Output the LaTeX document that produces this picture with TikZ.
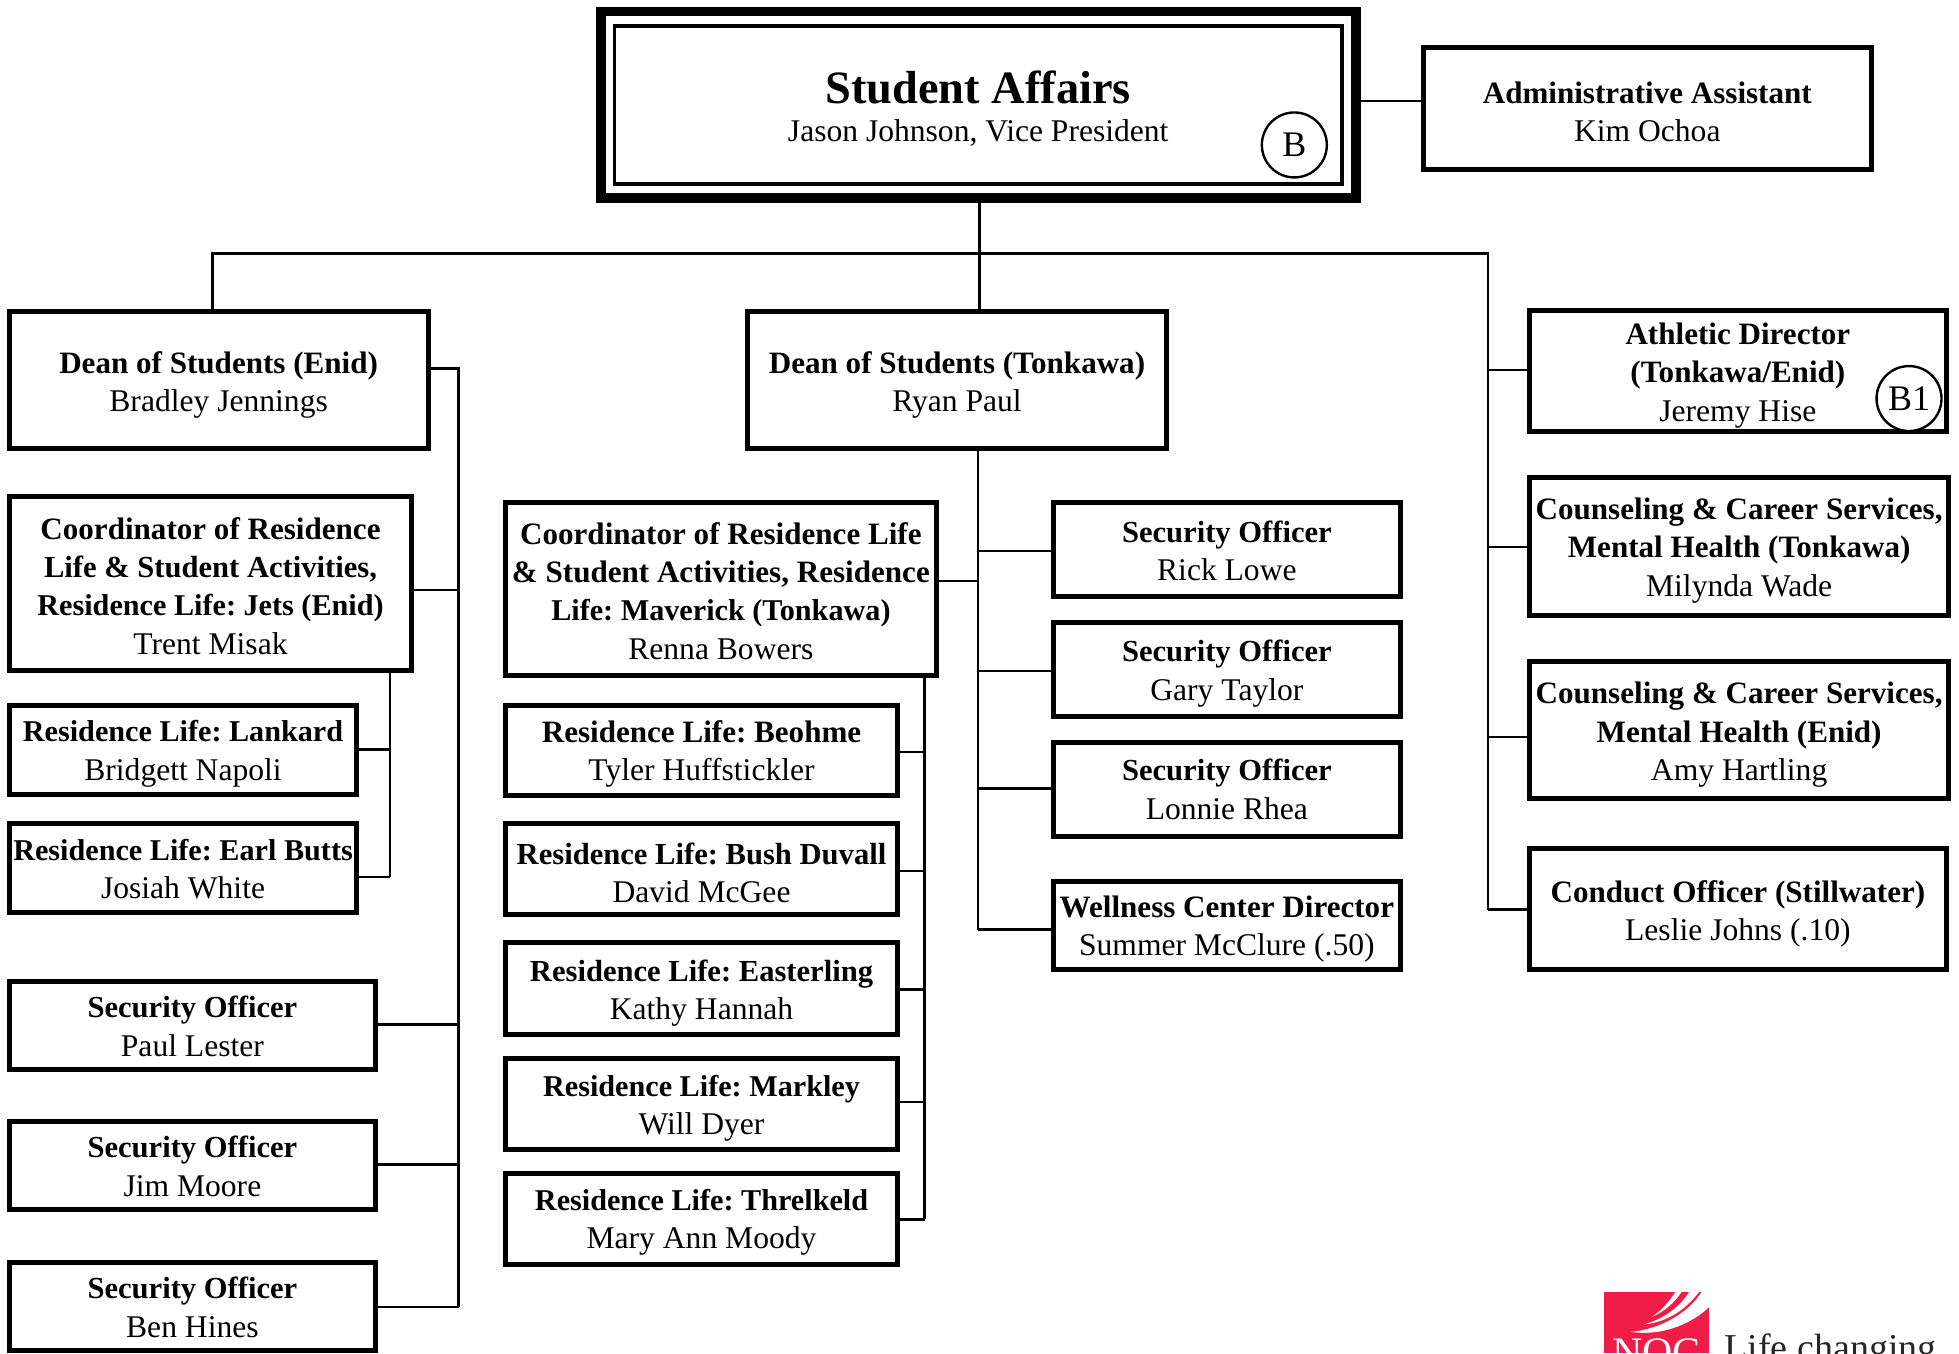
\documentclass[tikz,border=0pt]{standalone}
\usepackage{fontspec}
\setmainfont{Liberation Serif}
\definecolor{nocred}{HTML}{EE1C47}
\newcommand{\B}[1]{{\fontsize{15.55}{19.25}\selectfont\bfseries #1}}
\newcommand{\Bn}[1]{{\fontsize{15.1}{19.25}\selectfont\bfseries #1}}
\newcommand{\Bm}[1]{{\fontsize{15.3}{19.25}\selectfont\bfseries #1}}
\tikzset{
  x=0.625pt,y=-0.625pt,
  orgbox/.style={draw=black,line width=2.5pt,fill=white,inner sep=0pt},
  orgtext/.style={inner sep=0pt,align=center,font=\frenchspacing\fontsize{15.8}{19.25}\selectfont},
  link/.style={draw=black,line width=1.15pt},
  mark circle/.style={circle,draw=black,line width=1.2pt,fill=white,minimum size=32.5pt,inner sep=0pt,
    font=\fontsize{18}{20}\selectfont},
}
% [text shift], name, x0, y0, x1, y1 (outer edges), text
\newcommand{\bx}[7][3]{%
  \pgfmathsetmacro\cxx{(#3+#5)/2}\pgfmathsetmacro\cyy{(#4+#6)/2}\pgfmathsetmacro\tyy{\cyy+#1}%
  \pgfmathsetlengthmacro\ww{(#5-#3)*0.625pt-1.6pt}\pgfmathsetlengthmacro\hh{(#6-#4)*0.625pt-1.6pt}%
  \node[orgbox,minimum width=\ww,minimum height=\hh] (#2) at (\cxx,\cyy) {};
  \node[orgtext] (#2t) at (\cxx,\tyy) {#7};}
% horizontal branches from the east / west side of a node to a bus at height y
\newcommand{\branchE}[3]{\draw[link] (#1.east |- 0,#3) -- (#2 |- 0,#3);}
\newcommand{\branchW}[3]{\draw[link] (#1.west |- 0,#3) -- (#2 |- 0,#3);}
\begin{document}
\begin{tikzpicture}
\useasboundingbox (0,0) rectangle (1568,1083);
\begin{scope}
\clip (0,0) rectangle (1568,1083);
% top box
\node[draw=black,line width=5pt,minimum width=377.5pt,minimum height=93.5pt,inner sep=0pt] (top) at (783,84) {};
\node[draw=black,line width=1.8pt,minimum width=364pt,minimum height=79pt,inner sep=0pt] (topin) at (783,84) {};
\node[orgtext] (toptext) at (783,87)
  {{\fontsize{23.2}{24}\selectfont\bfseries Student Affairs}\\Jason Johnson, Vice President};
\node[mark circle] (cb) at (1036,116) {\raisebox{-0.6pt}{B}};

\bx[2.5]{admin}{1138}{37}{1499}{137}{\B{Administrative Assistant}\\Kim Ochoa}
\bx[4]{deanE}{6}{248}{344}{360}{\B{Dean of Students (Enid)}\\Bradley Jennings}
\bx[4]{deanT}{597}{248}{935}{360}{\B{Dean of Students (Tonkawa)}\\Ryan Paul}
\bx[3.5]{ath}{1223}{247}{1559}{347}{\B{Athletic Director}\\\B{(Tonkawa/Enid)}\\Jeremy Hise}
\bx{csT}{1223}{381}{1561}{494}{\B{Counseling \& Career Services,}\\\B{Mental Health (Tonkawa)}\\Milynda Wade}
\bx[4]{csE}{1223}{528}{1561}{640}{\B{Counseling \& Career Services,}\\\B{Mental Health (Enid)}\\Amy Hartling}
\bx[4]{cond}{1223}{678}{1559}{777}{\B{Conduct Officer (Stillwater)}\\Leslie Johns (.10)}
\bx[2]{coE}{6}{396}{331}{538}{\B{Coordinator of Residence}\\\Bm{Life \& Student Activities,}\\\Bn{Residence Life: Jets (Enid)}\\Trent Misak}
\bx[3.5]{lank}{6}{563}{287}{637}{\Bn{Residence Life: Lankard}\\Bridgett Napoli}
\bx[0.5]{earl}{6}{658}{287}{732}{\Bn{Residence Life: Earl Butts}\\Josiah White}
\bx[1]{secP}{6}{784}{302}{857}{\Bm{Security Officer}\\Paul Lester}
\bx[1]{secJ}{6}{896}{302}{969}{\Bm{Security Officer}\\Jim Moore}
\bx[1]{secB}{6}{1009}{302}{1082}{\Bm{Security Officer}\\Ben Hines}
\bx[1.5]{coT}{403}{401}{751}{542}{\B{Coordinator of Residence Life}\\\B{\& Student Activities, Residence}\\\Bn{Life: Maverick (Tonkawa)}\\Renna Bowers}
\bx{beo}{403}{563}{720}{638}{\B{Residence Life: Beohme}\\Tyler Huffstickler}
\bx{bush}{403}{658}{720}{733}{\Bm{Residence Life: Bush Duvall}\\David McGee}
\bx[4]{east}{403}{753}{720}{829}{\Bm{Residence Life: Easterling}\\Kathy Hannah}
\bx[3.5]{mark}{403}{846}{720}{921}{\Bn{Residence Life: Markley}\\Will Dyer}
\bx{thre}{403}{938}{720}{1013}{\Bn{Residence Life: Threlkeld}\\Mary Ann Moody}
\bx[1]{rick}{842}{401}{1122}{479}{\Bm{Security Officer}\\Rick Lowe}
\bx{gary}{842}{497}{1122}{575}{\Bm{Security Officer}\\Gary Taylor}
\bx[0]{lonn}{842}{593}{1122}{671}{\Bm{Security Officer}\\Lonnie Rhea}
\bx{well}{842}{704}{1122}{777}{\B{Wellness Center Director}\\Summer McClure (.50)}
\node[mark circle] (cb1) at (1528,319) {B1};

% buses
\coordinate (junc) at (784,203);
\coordinate (bL) at (170,203);
\coordinate (bR) at (1191,203);
\coordinate (busE) at (367,295);
\coordinate (busEc) at (312,538);
\coordinate (busT) at (783,360);
\coordinate (busTc) at (740,542);

\draw[link] (admin.west |- 0,81) -- (top.east |- 0,81);
\draw[link] (top.south -| junc) -- (junc) -- (junc |- deanT.north);
\draw[link] (bL |- deanE.north) -- (bL) -- (bR) -- (bR |- 0,728);
\branchW{ath}{bR}{296}
\branchW{csT}{bR}{438}
\branchW{csE}{bR}{590}
\branchW{cond}{bR}{728}

\draw[link] (deanE.east |- busE) -- (busE) -- (busE |- 0,1046);
\branchE{coE}{busE}{472}
\branchE{secP}{busE}{820}
\branchE{secJ}{busE}{932}
\branchE{secB}{busE}{1046}

\draw[link] (coE.south -| busEc) -- (busEc |- 0,702);
\branchE{lank}{busEc}{600}
\branchE{earl}{busEc}{702}

\draw[link] (deanT.south -| busT) -- (busT |- 0,744);
\branchW{rick}{busT}{441}
\branchW{gary}{busT}{537}
\branchW{lonn}{busT}{631}
\branchW{well}{busT}{744}
\branchE{coT}{busT}{465}

\draw[link] (coT.south -| busTc) -- (busTc |- 0,976);
\branchE{beo}{busTc}{602}
\branchE{bush}{busTc}{697}
\branchE{east}{busTc}{792}
\branchE{mark}{busTc}{882}
\branchE{thre}{busTc}{976}

% logo, cut off by the page edge
\fill[nocred] (1284,1034) rectangle (1368,1083);
\fill[white] (1341,1034) .. controls (1336,1042) and (1330,1049) .. (1322,1054)
  .. controls (1332,1050) and (1340,1043) .. (1346,1034) -- cycle;
\fill[white] (1352,1034) .. controls (1346,1044) and (1334,1055) .. (1316,1060)
  .. controls (1336,1058) and (1350,1047) .. (1360,1034) -- cycle;
\fill[white] (1368,1034) -- (1362,1034) .. controls (1352,1050) and (1330,1064) .. (1305,1066)
  .. controls (1332,1070) and (1356,1058) .. (1368,1046) -- cycle;
\node[anchor=base,inner sep=0pt,text=white,font=\fontsize{21}{22}\selectfont] (noc) at (1326,1094) {NOC};
\node[anchor=base west,inner sep=0pt,text=black!85,font=\fontsize{19}{20}\selectfont] (life) at (1380,1089) {Life changing};
\end{scope}
\end{tikzpicture}
\end{document}
